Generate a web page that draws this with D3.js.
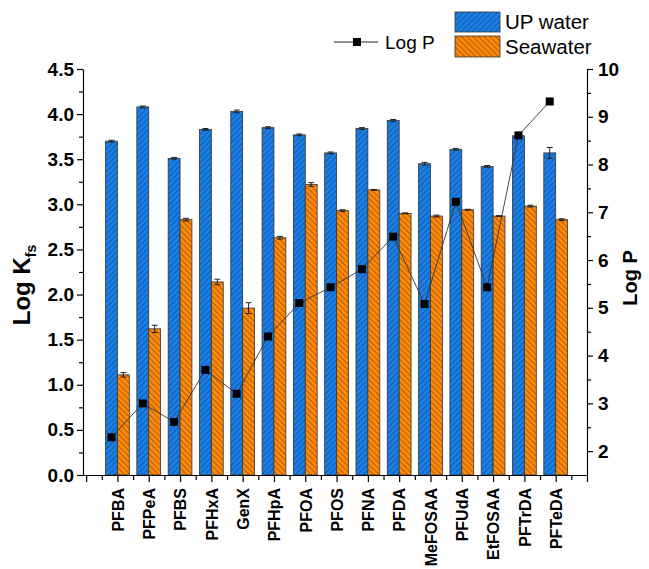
<!DOCTYPE html>
<html>
<head>
<meta charset="utf-8">
<script src="https://cdn.jsdelivr.net/npm/d3@7"></script>
<style>
  html, body { margin: 0; padding: 0; background: #fff; }
  svg { display: block; font-family: Arial, "Liberation Sans", sans-serif; }
</style>
</head>
<body>
<svg id="chart" width="649" height="569"></svg>
<script>
const categories = ["PFBA","PFPeA","PFBS","PFHxA","GenX","PFHpA","PFOA","PFOS","PFNA","PFDA","MeFOSAA","PFUdA","EtFOSAA","PFTrDA","PFTeDA"];
const upWater    = [3.70, 4.08, 3.51, 3.83, 4.03, 3.85, 3.77, 3.57, 3.84, 3.93, 3.45, 3.61, 3.42, 3.76, 3.57];
const upWaterErr = [0.01, 0.01, 0.01, 0.01, 0.015, 0.01, 0.01, 0.01, 0.01, 0.01, 0.015, 0.01, 0.01, 0.01, 0.06];
const seawater    = [1.11, 1.62, 2.83, 2.14, 1.85, 2.63, 3.22, 2.93, 3.16, 2.90, 2.87, 2.94, 2.87, 2.98, 2.83];
const seawaterErr = [0.025, 0.04, 0.015, 0.03, 0.06, 0.015, 0.02, 0.01, 0.005, 0.005, 0.01, 0.005, 0.005, 0.01, 0.01];
const logP = [2.29, 3.00, 2.61, 3.70, 3.20, 4.40, 5.10, 5.43, 5.81, 6.49, 5.08, 7.22, 5.43, 8.61, 9.32];
const leftTicks = [0, 0.5, 1, 1.5, 2, 2.5, 3, 3.5, 4, 4.5];
const rightTicks = [2, 3, 4, 5, 6, 7, 8, 9, 10];

const svg = d3.select("#chart");
const plotL = 83, plotR = 587, plotB = 475, plotT = 69;

const x = d3.scaleLinear().domain([-0.1, 16]).range([plotL, plotR]);
const yL = d3.scaleLinear().domain([0, 4.5]).range([plotB, plotT]);
const yR = d3.scaleLinear().domain([1.5, 10]).range([plotB, plotT]);
const barW = x(0.38) - x(0);

// patterns
const defs = svg.append("defs");
function hatch(id, fill, stroke, angle) {
  const p = defs.append("pattern").attr("id", id).attr("patternUnits", "userSpaceOnUse")
    .attr("width", 4).attr("height", 4).attr("patternTransform", `rotate(${angle})`);
  p.append("rect").attr("width", 4).attr("height", 4).attr("fill", fill);
  p.append("line").attr("x1", 0).attr("y1", 0).attr("x2", 0).attr("y2", 4)
    .attr("stroke", stroke).attr("stroke-width", 1);
}
hatch("hBlue", "#1b80e6", "#0b3070", 45);
hatch("hOrange", "#ff8a0a", "#5e2e00", -45);

const idx = categories.map((d, i) => i);

// bars
svg.append("g").selectAll("rect").data(idx).join("rect")
  .attr("x", i => x(i + 1) - barW).attr("width", barW)
  .attr("y", i => yL(upWater[i])).attr("height", i => yL(0) - yL(upWater[i]))
  .attr("fill", "url(#hBlue)").attr("stroke", "#333").attr("stroke-width", 0.8);
svg.append("g").selectAll("rect").data(idx).join("rect")
  .attr("x", i => x(i + 1)).attr("width", barW)
  .attr("y", i => yL(seawater[i])).attr("height", i => yL(0) - yL(seawater[i]))
  .attr("fill", "url(#hOrange)").attr("stroke", "#333").attr("stroke-width", 0.8);

// error bars
function errBars(vals, errs, cxFn) {
  const g = svg.append("g").attr("stroke", "#222").attr("stroke-width", 1);
  idx.forEach(i => {
    const cx = cxFn(i);
    const y1 = yL(vals[i] + errs[i]), y0 = yL(vals[i] - errs[i]);
    g.append("line").attr("x1", cx).attr("x2", cx).attr("y1", y1).attr("y2", y0);
    g.append("line").attr("x1", cx - 3).attr("x2", cx + 3).attr("y1", y1).attr("y2", y1);
    g.append("line").attr("x1", cx - 3).attr("x2", cx + 3).attr("y1", y0).attr("y2", y0);
  });
}
errBars(upWater, upWaterErr, i => x(i + 1) - barW / 2);
errBars(seawater, seawaterErr, i => x(i + 1) + barW / 2);

// log P line
const lx = i => x(i + 1) - barW / 2;
svg.append("path").datum(idx)
  .attr("d", d3.line().x(i => lx(i)).y(i => yR(logP[i])))
  .attr("fill", "none").attr("stroke", "#333").attr("stroke-width", 0.9);
svg.append("g").selectAll("rect").data(idx).join("rect")
  .attr("x", i => lx(i) - 4).attr("y", i => yR(logP[i]) - 4)
  .attr("width", 8).attr("height", 8).attr("fill", "#000");

// axes
const axL = svg.append("g").attr("transform", `translate(${plotL},0)`)
  .call(d3.axisLeft(yL).tickValues(leftTicks).tickFormat(d3.format(".1f")).tickSize(6).tickSizeOuter(0));
svg.append("g").attr("transform", `translate(${plotL},0)`)
  .call(d3.axisLeft(yL).tickValues(d3.range(0.25, 4.5, 0.5)).tickFormat("").tickSize(4).tickSizeOuter(0))
  .select(".domain").remove();
const axR = svg.append("g").attr("transform", `translate(${plotR},0)`)
  .call(d3.axisRight(yR).tickValues(rightTicks).tickSize(6).tickSizeOuter(0));
svg.append("g").attr("transform", `translate(${plotR},0)`)
  .call(d3.axisRight(yR).tickValues(d3.range(2.5, 10, 1)).tickFormat("").tickSize(4).tickSizeOuter(0))
  .select(".domain").remove();
const axB = svg.append("g").attr("transform", `translate(0,${plotB})`)
  .call(d3.axisBottom(x).tickValues(d3.range(0, 17)).tickFormat(d => (d >= 1 && d <= 15) ? categories[d - 1] : "").tickSize(7).tickSizeOuter(0));
svg.append("g").attr("transform", `translate(0,${plotB})`)
  .call(d3.axisBottom(x).tickValues(d3.range(0.5, 16, 1)).tickFormat("").tickSize(5).tickSizeOuter(0))
  .select(".domain").remove();

svg.selectAll(".domain, .tick line").attr("stroke", "#000").attr("stroke-width", 1.2);
axL.selectAll("text").attr("font-size", 19).attr("font-weight", "bold").attr("fill", "#000").attr("x", -9);
axR.selectAll("text").attr("font-size", 19).attr("font-weight", "bold").attr("fill", "#000").attr("x", 11);
axB.selectAll("text").attr("font-size", 16).attr("font-weight", "bold").attr("fill", "#000")
  .attr("transform", "rotate(-90)").attr("text-anchor", "end").attr("dy", "0.36em").attr("x", -13).attr("y", 0);

// axis titles
const tl = svg.append("text").attr("transform", "translate(30,285) rotate(-90)")
  .attr("text-anchor", "middle").attr("font-size", 24).attr("font-weight", "bold");
tl.append("tspan").text("Log K");
tl.append("tspan").attr("font-size", 14).attr("dy", 6).text("fs");
svg.append("text").attr("transform", "translate(637,278) rotate(-90)")
  .attr("text-anchor", "middle").attr("font-size", 20).attr("font-weight", "bold").text("Log P");

// legend
svg.append("line").attr("x1", 334).attr("x2", 378).attr("y1", 42).attr("y2", 42).attr("stroke", "#222").attr("stroke-width", 1);
svg.append("rect").attr("x", 353).attr("y", 38).attr("width", 8).attr("height", 8).attr("fill", "#000");
svg.append("text").attr("x", 385).attr("y", 49).attr("font-size", 19).text("Log P");
svg.append("rect").attr("x", 455).attr("y", 12).attr("width", 45).attr("height", 20)
  .attr("fill", "url(#hBlue)").attr("stroke", "#333").attr("stroke-width", 0.8);
svg.append("rect").attr("x", 455).attr("y", 36).attr("width", 45).attr("height", 21)
  .attr("fill", "url(#hOrange)").attr("stroke", "#333").attr("stroke-width", 0.8);
svg.append("text").attr("x", 505).attr("y", 29).attr("font-size", 20.5).text("UP water");
svg.append("text").attr("x", 505).attr("y", 54).attr("font-size", 20.5).text("Seawater");
</script>
</body>
</html>
